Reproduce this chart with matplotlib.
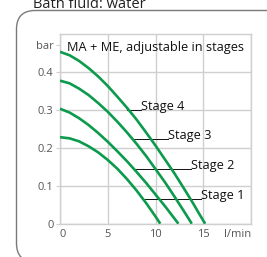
import matplotlib
matplotlib.use("Agg")
import matplotlib.pyplot as plt
from matplotlib.patches import FancyBboxPatch

plt.rcParams['font.family'] = ['Open Sans', 'DejaVu Sans']

# flow rate [l/min] and pressure [bar]
flow_s4 = [0, 1, 2, 3, 4, 5, 6, 7, 8, 9, 10, 11, 12, 13, 14, 14.6, 15.2]
bar_s4 = [0.453, 0.444, 0.429, 0.410, 0.388, 0.363, 0.335, 0.306, 0.275,
          0.241, 0.206, 0.169, 0.132, 0.092, 0.051, 0.025, 0.0]
flow_s3 = [0, 1, 2, 3, 4, 5, 6, 7, 8, 9, 10, 11, 12, 13, 13.8]
bar_s3 = [0.377, 0.370, 0.356, 0.339, 0.318, 0.295, 0.269, 0.241, 0.211,
          0.179, 0.144, 0.109, 0.071, 0.032, 0.0]
flow_s2 = [0, 1, 2, 3, 4, 5, 6, 7, 8, 9, 10, 11, 12, 12.4]
bar_s2 = [0.303, 0.293, 0.278, 0.260, 0.239, 0.216, 0.191, 0.165, 0.137,
          0.108, 0.077, 0.046, 0.013, 0.0]
flow_s1 = [0, 1, 2, 3, 4, 5, 6, 7, 8, 9, 10, 10.5]
bar_s1 = [0.228, 0.225, 0.217, 0.204, 0.188, 0.168, 0.145, 0.118, 0.088,
          0.055, 0.019, 0.0]

stage_labels = ["Stage 4", "Stage 3", "Stage 2", "Stage 1"]
# leader line: start flow, end flow, pressure
leader_start = [7.05, 7.64, 7.64, 8.78]
leader_end = [8.51, 11.28, 13.72, 14.76]
leader_bar = [0.299, 0.222, 0.143, 0.064]

xticks = [0, 5, 10, 15, 20]
xtick_labels = ["0", "5", "10", "15", "l/min"]
yticks = [0, 0.1, 0.2, 0.3, 0.4, 0.47]
ytick_labels = ["0", "0.1", "0.2", "0.3", "0.4", "bar"]

green = '#0c9a4c'
grid_c = '#cfcfcf'
txt_grey = '#555555'

fig = plt.figure(figsize=(2.67, 2.57), dpi=100)

# rounded outer frame, running off the right and bottom edges
frame = FancyBboxPatch((16.5 / 267, 1 - 262 / 257), 300 / 267, 251.5 / 257,
                       boxstyle="round,pad=0,rounding_size=0.07",
                       transform=fig.transFigure, fill=False,
                       edgecolor='#7a7a7a', linewidth=1.0, mutation_aspect=267 / 257)
fig.patches.append(frame)

fig.text(33 / 267, 1 - 7.5 / 257, "Bath fluid: water", fontsize=10.5,
         color='#222222', ha='left', va='baseline')

ax = fig.add_axes([60 / 267, 1 - 223.7 / 257, 191 / 267, 189.7 / 257])
ax.set_xlim(0, 20)
ax.set_ylim(0, 0.5)

for fl, br in [(flow_s4, bar_s4), (flow_s3, bar_s3), (flow_s2, bar_s2), (flow_s1, bar_s1)]:
    ax.plot(fl, br, color=green, linewidth=1.9, solid_capstyle='butt', zorder=3)

for lab, x0, x1, yv in zip(stage_labels, leader_start, leader_end, leader_bar):
    ax.plot([x0, x1], [yv, yv], color='#111111', linewidth=0.7, zorder=2)
    ax.text(x1, yv, lab, fontsize=9.2, color='#111111', ha='left', va='baseline')

ax.text(0.75, 0.465, "MA + ME, adjustable in stages", fontsize=9.2,
        color='#111111', ha='left', va='center')

ax.grid(True, color=grid_c, linewidth=1.0)
ax.set_xticks(xticks)
ax.set_xticklabels(xtick_labels)
ax.set_yticks(yticks)
ax.set_yticklabels(ytick_labels)
ax.tick_params(axis='x', length=0, pad=4, labelsize=8, labelcolor=txt_grey)
ax.tick_params(axis='y', length=3, width=0.8, color=grid_c, pad=1.5,
               labelsize=8, labelcolor=txt_grey)
ax.get_xticklabels()[0].set_ha('left')
ax.get_xticklabels()[-1].set_ha('right')
# no gridline for the 'bar' unit tick
ax.get_ygridlines()[-1].set_visible(False)

for sp in ax.spines.values():
    sp.set_color(grid_c)
    sp.set_linewidth(1.0)

fig.savefig("out.png", dpi=100)
